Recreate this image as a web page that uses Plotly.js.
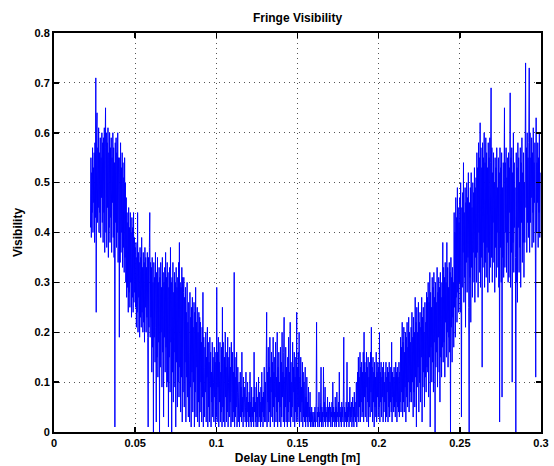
<!DOCTYPE html>
<html><head><meta charset="utf-8">
<script src="https://cdn.plot.ly/plotly-3.0.1.min.js"></script>
<style>html,body{margin:0;padding:0;background:#fff;}#chart{width:554px;height:466px;}</style>
</head><body><div id="chart"></div>
<script>
const chartTitle = 'Fringe Visibility';
const xTitle = 'Delay Line Length [m]';
const yTitle = 'Visibility';
const delayStart = 0.0225;
const delayStep = 0.00025;
const visibility = [
0.41,0.55,0.39,0.52,0.44,0.57,0.40,0.53,0.46,0.56,
0.38,0.58,0.43,0.71,0.24,0.60,0.64,0.42,0.57,0.45,
0.61,0.40,0.56,0.44,0.59,0.39,0.55,0.47,0.60,0.42,
0.58,0.38,0.59,0.44,0.61,0.36,0.57,0.65,0.40,0.60,
0.37,0.58,0.45,0.61,0.35,0.56,0.41,0.60,0.38,0.57,
0.43,0.59,0.36,0.55,0.46,0.60,0.39,0.57,0.35,0.54,
0.01,0.58,0.42,0.59,0.37,0.56,0.40,0.60,0.34,0.55,
0.52,0.19,0.55,0.34,0.58,0.36,0.53,0.40,0.56,0.33,
0.54,0.37,0.51,0.32,0.55,0.35,0.50,0.30,0.47,0.27,
0.44,0.29,0.42,0.24,0.45,0.28,0.41,0.25,0.44,0.30,
0.40,0.23,0.43,0.27,0.41,0.24,0.44,0.26,0.39,0.28,
0.37,0.25,0.38,0.21,0.35,0.24,0.44,0.20,0.36,0.27,
0.34,0.19,0.37,0.23,0.35,0.21,0.39,0.24,0.33,0.20,
0.36,0.22,0.34,0.18,0.37,0.25,0.35,0.20,0.33,0.23,
0.36,0.19,0.01,0.35,0.21,0.37,0.44,0.19,0.34,0.23,
0.33,0.12,0.35,0.17,0.30,0.00,0.34,0.19,0.31,0.14,
0.36,0.21,0.02,0.32,0.15,0.35,0.11,0.30,0.18,0.33,
0.00,0.31,0.13,0.34,0.20,0.29,0.09,0.35,0.16,0.32,
0.03,0.30,0.19,0.33,0.12,0.36,0.17,0.31,0.09,0.34,
0.10,0.32,0.01,0.29,0.15,0.33,0.08,0.37,0.18,0.30,
0.00,0.31,0.12,0.34,0.06,0.28,0.16,0.32,0.09,0.30,
0.01,0.33,0.14,0.29,0.05,0.31,0.10,0.34,0.07,0.38,
0.13,0.30,0.04,0.29,0.11,0.33,0.02,0.31,0.08,0.28,
0.31,0.05,0.27,0.14,0.29,0.02,0.24,0.11,0.30,0.07,
0.22,0.03,0.26,0.16,0.02,0.28,0.09,0.23,0.01,0.25,
0.12,0.27,0.04,0.21,0.10,0.26,0.01,0.24,0.08,0.29,
0.03,0.22,0.13,0.25,0.02,0.20,0.06,0.24,0.01,0.23,
0.04,0.22,0.10,0.18,0.02,0.21,0.07,0.28,0.01,0.19,
0.13,0.03,0.17,0.08,0.20,0.02,0.15,0.11,0.21,0.01,
0.18,0.05,0.14,0.02,0.19,0.09,0.16,0.01,0.12,0.06,
0.18,0.03,0.15,0.10,0.02,0.17,0.07,0.14,0.01,0.16,
0.03,0.29,0.02,0.16,0.09,0.19,0.01,0.14,0.06,0.18,
0.02,0.12,0.04,0.17,0.01,0.25,0.05,0.18,0.02,0.11,
0.15,0.01,0.20,0.07,0.13,0.02,0.16,0.04,0.19,0.01,
0.10,0.15,0.03,0.17,0.06,0.13,0.01,0.18,0.08,0.02,
0.16,0.02,0.12,0.04,0.32,0.01,0.15,0.03,0.11,0.05,
0.16,0.01,0.08,0.13,0.02,0.07,0.10,0.01,0.06,0.12,
0.03,0.09,0.02,0.16,0.04,0.07,0.01,0.11,0.03,0.06,
0.09,0.02,0.05,0.12,0.01,0.07,0.04,0.10,0.02,0.06,
0.01,0.08,0.03,0.12,0.02,0.06,0.01,0.09,0.03,0.05,
0.02,0.07,0.01,0.16,0.04,0.09,0.02,0.06,0.01,0.10,
0.03,0.07,0.01,0.05,0.11,0.02,0.08,0.03,0.06,0.01,
0.09,0.02,0.12,0.04,0.07,0.01,0.08,0.03,0.13,0.02,
0.05,0.10,0.02,0.14,0.24,0.01,0.12,0.06,0.17,0.02,
0.13,0.04,0.19,0.01,0.11,0.08,0.16,0.03,0.14,0.02,
0.19,0.05,0.12,0.01,0.15,0.07,0.18,0.02,0.11,0.04,
0.20,0.01,0.13,0.06,0.16,0.02,0.10,0.05,0.17,0.01,
0.14,0.03,0.20,0.07,0.12,0.02,0.16,0.23,0.01,0.11,
0.05,0.17,0.02,0.13,0.09,0.01,0.15,0.04,0.19,0.02,
0.12,0.06,0.22,0.01,0.14,0.03,0.10,0.05,0.18,0.02,
0.13,0.08,0.16,0.01,0.11,0.04,0.15,0.02,0.24,0.03,
0.13,0.02,0.16,0.05,0.20,0.01,0.11,0.04,0.15,0.02,
0.09,0.06,0.14,0.01,0.12,0.03,0.10,0.02,0.08,0.13,
0.01,0.07,0.03,0.11,0.02,0.06,0.01,0.09,0.03,0.05,
0.02,0.08,0.01,0.04,0.02,0.05,0.01,0.03,0.04,0.02,
0.01,0.04,0.02,0.05,0.01,0.03,0.06,0.22,0.02,0.04,
0.01,0.05,0.03,0.08,0.01,0.04,0.02,0.06,0.13,0.01,
0.05,0.02,0.04,0.01,0.13,0.03,0.06,0.02,0.09,0.01,
0.05,0.03,0.04,0.02,0.07,0.01,0.05,0.02,0.03,0.06,
0.02,0.05,0.01,0.04,0.03,0.06,0.01,0.10,0.02,0.05,
0.03,0.04,0.01,0.07,0.02,0.05,0.01,0.08,0.03,0.04,
0.02,0.06,0.01,0.12,0.03,0.05,0.02,0.04,0.01,0.06,
0.03,0.05,0.02,0.07,0.19,0.01,0.05,0.03,0.04,0.02,
0.06,0.01,0.14,0.02,0.05,0.03,0.06,0.01,0.04,0.09,
0.02,0.05,0.03,0.06,0.01,0.04,0.07,0.02,0.05,0.01,
0.08,0.03,0.06,0.02,0.04,0.10,0.01,0.06,0.12,0.03,
0.15,0.02,0.11,0.05,0.16,0.02,0.13,0.06,0.14,0.03,
0.12,0.04,0.16,0.02,0.20,0.07,0.14,0.03,0.12,0.09,
0.16,0.02,0.13,0.06,0.15,0.01,0.11,0.05,0.14,0.03,
0.16,0.08,0.21,0.04,0.13,0.02,0.15,0.06,0.12,0.01,
0.14,0.05,0.11,0.03,0.16,0.02,0.12,0.07,0.14,0.03,
0.13,0.05,0.20,0.02,0.12,0.06,0.14,0.03,0.11,0.07,
0.13,0.02,0.14,0.04,0.10,0.06,0.12,0.02,0.14,0.03,
0.11,0.08,0.13,0.02,0.12,0.05,0.14,0.03,0.10,0.06,
0.13,0.04,0.18,0.02,0.12,0.07,0.11,0.04,0.13,0.05,
0.11,0.03,0.14,0.06,0.12,0.02,0.13,0.05,0.11,0.04,
0.14,0.03,0.12,0.06,0.19,0.04,0.17,0.08,0.22,0.03,
0.18,0.06,0.21,0.04,0.16,0.09,0.20,0.02,0.19,0.07,
0.22,0.05,0.17,0.10,0.23,0.04,0.20,0.06,0.18,0.08,
0.21,0.06,0.24,0.10,0.19,0.03,0.23,0.08,0.20,0.05,
0.27,0.11,0.22,0.01,0.25,0.09,0.20,0.13,0.26,0.04,
0.22,0.10,0.24,0.06,0.21,0.15,0.27,0.02,0.23,0.09,
0.25,0.12,0.20,0.05,0.26,0.11,0.22,0.08,0.28,0.13,
0.27,0.12,0.30,0.07,0.26,0.15,0.32,0.01,0.28,0.17,
0.25,0.10,0.31,0.14,0.29,0.08,0.32,0.18,0.27,0.00,
0.30,0.13,0.26,0.16,0.33,0.09,0.28,0.19,0.31,0.12,
0.29,0.06,0.32,0.15,0.27,0.11,0.30,0.17,0.38,0.14,
0.33,0.18,0.31,0.11,0.34,0.22,0.30,0.15,0.38,0.20,
0.33,0.13,0.29,0.19,0.34,0.16,0.32,0.00,0.35,0.21,
0.31,0.14,0.33,0.23,0.30,0.17,0.44,0.25,0.40,0.19,
0.47,0.27,0.43,0.22,0.49,0.28,0.45,0.24,0.42,0.30,
0.47,0.24,0.50,0.33,0.03,0.45,0.29,0.48,0.36,0.54,
0.26,0.44,0.31,0.49,0.21,0.46,0.34,0.50,0.28,0.47,
0.35,0.52,0.25,0.00,0.46,0.31,0.49,0.22,0.52,0.33,
0.45,0.27,0.50,0.36,0.48,0.30,0.53,0.26,0.49,0.35,
0.51,0.30,0.56,0.36,0.53,0.27,0.58,0.40,0.55,0.32,
0.62,0.29,0.57,0.35,0.53,0.13,0.58,0.33,0.55,0.38,
0.60,0.29,0.54,0.34,0.59,0.31,0.56,0.37,0.53,0.28,
0.58,0.36,0.55,0.30,0.59,0.33,0.54,0.69,0.35,0.57,
0.30,0.52,0.42,0.56,0.34,0.50,0.28,0.55,0.37,0.53,
0.31,0.57,0.40,0.49,0.33,0.55,0.29,0.52,0.02,0.57,
0.37,0.53,0.30,0.56,0.07,0.49,0.35,0.54,0.31,0.51,
0.65,0.33,0.54,0.40,0.57,0.32,0.51,0.38,0.55,0.30,
0.56,0.31,0.53,0.44,0.68,0.29,0.55,0.36,0.57,0.10,
0.52,0.38,0.60,0.32,0.54,0.41,0.49,0.35,0.00,0.56,
0.30,0.53,0.26,0.58,0.41,0.55,0.32,0.50,0.37,0.57,
0.29,0.54,0.42,0.59,0.34,0.52,0.38,0.56,0.31,0.50,
0.38,0.56,0.74,0.45,0.57,0.36,0.60,0.42,0.55,0.39,
0.58,0.73,0.36,0.60,0.42,0.55,0.47,0.59,0.37,0.56,
0.44,0.61,0.38,0.54,0.46,0.58,0.40,0.11,0.63,0.40,
0.54,0.46,0.58,0.37,0.55,0.44,0.60,0.39,0.52
];
const xTickValues = [0, 0.05, 0.1, 0.15, 0.2, 0.25, 0.3];
const xTickLabels = ['0', '0.05', '0.1', '0.15', '0.2', '0.25', '0.3'];
const yTickValues = [0, 0.1, 0.2, 0.3, 0.4, 0.5, 0.6, 0.7, 0.8];
const yTickLabels = ['0', '0.1', '0.2', '0.3', '0.4', '0.5', '0.6', '0.7', '0.8'];

const delay = visibility.map((_, i) => +(delayStart + i * delayStep).toFixed(5));

const fontFamily = '"Liberation Sans", Arial, Helvetica, sans-serif';
const tickFont = {family: fontFamily, size: 11, color: '#000', weight: 'bold'};
const labelFont = {family: fontFamily, size: 12, color: '#000', weight: 'bold'};

const axisCommon = {
  ticks: 'inside', ticklen: 5, tickwidth: 1.5, tickcolor: '#000',
  showline: true, linewidth: 2, linecolor: '#000', mirror: 'ticks',
  showgrid: true, gridcolor: '#555', gridwidth: 1, griddash: '1px,4px',
  zeroline: false, tickfont: tickFont, fixedrange: true
};

const trace = {
  type: 'scatter', mode: 'lines', x: delay, y: visibility,
  line: {color: '#0000ff', width: 1, simplify: false},
  hoverinfo: 'skip', showlegend: false
};

const layout = {
  width: 554, height: 466,
  margin: {l: 54, r: 13, t: 33, b: 34, pad: 0},
  paper_bgcolor: '#fff', plot_bgcolor: '#fff',
  font: tickFont,
  title: {text: chartTitle, font: labelFont, x: 0.5, xref: 'paper', xanchor: 'center', y: 1 - 18 / 466, yref: 'container', yanchor: 'middle'},
  xaxis: Object.assign({}, axisCommon, {
    range: [0, 0.3], tickvals: xTickValues, ticktext: xTickLabels,
    title: {text: xTitle, font: labelFont, standoff: 5}
  }),
  yaxis: Object.assign({}, axisCommon, {
    range: [0, 0.8], tickvals: yTickValues, ticktext: yTickLabels,
    title: {text: yTitle, font: labelFont, standoff: 9}
  })
};

Plotly.newPlot('chart', [trace], layout, {displayModeBar: false, staticPlot: true});
</script>
</body></html>
